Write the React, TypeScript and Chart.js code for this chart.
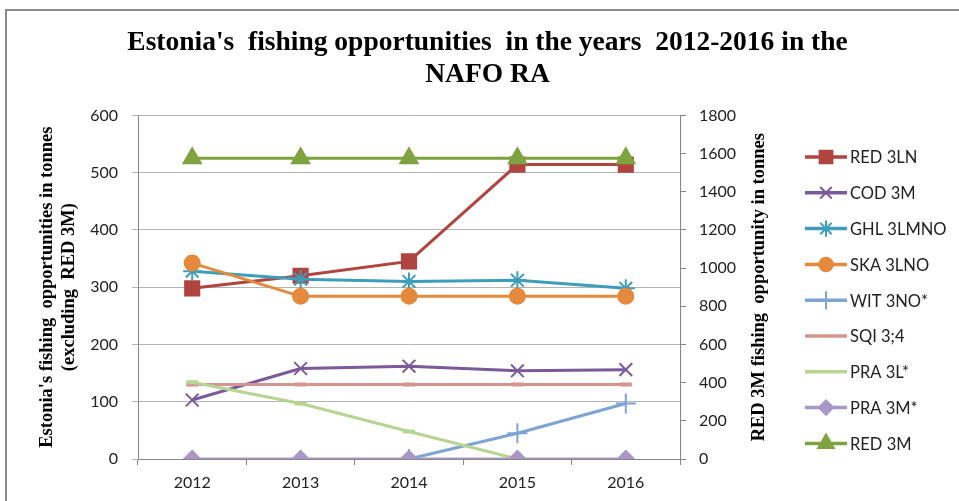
import React, { useEffect, useRef } from "react";
import { Chart, registerables, PointElement } from "chart.js";

Chart.register(...registerables);

const years = ["2012", "2013", "2014", "2015", "2016"];
const red3LN = [298, 320, 345, 514, 514];
const cod3M = [103, 158, 162, 154, 156];
const ghl3LMNO = [328, 314, 310, 312, 298];
const ska3LNO = [342, 284, 284, 284, 284];
const wit3NO = [null, null, 0, 45, 97];
const sqi34 = [130, 130, 130, 130, 130];
const pra3L = [134, 97, 48, 0, null];
const pra3M = [0, 0, 0, 0, 0];
const red3M = [1575, 1575, 1575, 1575, 1575];

const leftTicks = [0, 100, 200, 300, 400, 500, 600];
const rightTicks = [0, 200, 400, 600, 800, 1000, 1200, 1400, 1600, 1800];

const titleLines = ["Estonia's  fishing opportunities  in the years  2012-2016 in the", "NAFO RA"];
const leftTitle = ["Estonia's fishing  opportunities in tonnes", "(excluding  RED 3M)"];
const rightTitle = "RED 3M fishing  opportunity in tonnes";

const SERIF = '"Liberation Serif", "Times New Roman", serif';
const SANS = 'Lato, "Open Sans", sans-serif';

const decorPlugin = {
  id: "decor",
  beforeDraw(chart: any) {
    const ctx = chart.ctx;
    ctx.save();
    ctx.strokeStyle = "#8c8c8c";
    ctx.lineWidth = 2;
    ctx.strokeRect(6, 10, 1000, 600);
    ctx.restore();
  },
  afterDraw(chart: any) {
    const ctx = chart.ctx;
    const area = chart.chartArea;
    const y1 = chart.scales.y1;
    const base = y1.left;
    ctx.save();
    ctx.translate(base + 79, (area.top + area.bottom) / 2);
    ctx.rotate(-Math.PI / 2);
    ctx.font = "bold 18.5px " + SERIF;
    ctx.fillStyle = "#000";
    ctx.textAlign = "center";
    ctx.textBaseline = "middle";
    ctx.fillText(rightTitle, 0, 0);
    ctx.restore();

    chart.data.datasets.forEach((ds: any, i: number) => {
      const y = 157 + i * 35.8;
      ctx.save();
      ctx.strokeStyle = ds.borderColor;
      ctx.lineWidth = 3.5;
      ctx.beginPath();
      ctx.moveTo(base + 125, y);
      ctx.lineTo(base + 167, y);
      ctx.stroke();
      ctx.restore();
      if (ds.pointStyle && ds.legendMarker !== false) {
        const pt: any = new PointElement({});
        pt.x = base + 146;
        pt.y = y;
        pt.options = {
          pointStyle: ds.pointStyle,
          radius: ds.pointRadius * 0.9,
          borderWidth: ds.pointBorderWidth,
          backgroundColor: ds.pointBackgroundColor,
          borderColor: ds.pointBorderColor,
          rotation: 0,
        };
        pt.draw(ctx);
      }
      ctx.save();
      ctx.font = "16.5px " + SANS;
      ctx.fillStyle = "#222";
      ctx.textAlign = "left";
      ctx.textBaseline = "middle";
      ctx.fillText(ds.label, base + 170, y + 1);
      ctx.restore();
    });
  },
};

function series(label: string, data: any[], color: string, style: any, radius: number, axis: string, opts: any = {}) {
  return {
    label,
    data,
    yAxisID: axis,
    borderColor: color,
    backgroundColor: color,
    borderWidth: 3,
    pointStyle: style,
    pointRadius: radius,
    pointHoverRadius: radius,
    pointBackgroundColor: color,
    pointBorderColor: color,
    pointBorderWidth: 2,
    tension: 0,
    spanGaps: false,
    ...opts,
  };
}

export default function App() {
  const ref = useRef<HTMLCanvasElement>(null);
  useEffect(() => {
    document.body.style.margin = "0";
    const canvas = ref.current!;
    const list = [
      series("RED 3LN", red3LN, "#b0443f", "rect", 10, "y"),
      series("COD 3M", cod3M, "#7a5a9b", "crossRot", 9, "y"),
      series("GHL 3LMNO", ghl3LMNO, "#3f9dbc", "star", 9, "y"),
      series("SKA 3LNO", ska3LNO, "#e5893c", "circle", 7.5, "y"),
      series("WIT 3NO*", wit3NO, "#7ea3d5", "cross", 10, "y"),
      series("SQI 3;4", sqi34, "#d59490", "line", 6, "y", { pointBorderWidth: 4, legendMarker: false }),
      series("PRA 3L*", pra3L, "#b7d492", "line", 6, "y", { pointBorderWidth: 4, legendMarker: false }),
      series("PRA 3M*", pra3M, "#a897c7", "rectRot", 8, "y"),
      series("RED 3M", red3M, "#7fa33f", "triangle", 10, "y1"),
    ];
    const n = list.length;
    list.forEach((d: any, i) => (d.order = n - i));
    const chart = new Chart(canvas, {
      type: "line",
      data: { labels: years, datasets: list as any },
      plugins: [decorPlugin],
      options: {
        animation: false,
        responsive: false,
        devicePixelRatio: 1,
        layout: { padding: { left: 16, right: 0, top: 0, bottom: 0 } },
        plugins: {
          legend: { display: false },
          tooltip: { enabled: false },
          title: {
            display: true,
            text: titleLines,
            color: "#000",
            font: { family: SERIF, size: 27.5, weight: "bold", lineHeight: 1.17 },
            padding: { top: 27, bottom: 24 },
          },
        },
        scales: {
          x: {
            type: "category",
            offset: true,
            grid: { offset: true, drawOnChartArea: false, drawTicks: true, tickLength: 6, color: "#868686" },
            border: { display: true, color: "#868686", width: 1 },
            ticks: { color: "#222", font: { family: SANS, size: 16 }, padding: 8 },
            afterFit: (s: any) => { s.height = 42; },
          },
          y: {
            position: "left",
            min: 0,
            max: 600,
            afterBuildTicks: (s: any) => { s.ticks = leftTicks.map((v) => ({ value: v })); },
            grid: { color: "#b4b4b4", tickLength: 6, drawTicks: true },
            border: { display: true, color: "#868686" },
            ticks: { color: "#222", font: { family: SANS, size: 16 }, padding: 14, callback: (v: any) => String(v) },
            title: {
              display: true,
              text: leftTitle,
              color: "#000",
              font: { family: SERIF, size: 18.5, weight: "bold", lineHeight: 1.2 },
              padding: { top: 20, bottom: 0 },
            },
            afterFit: (s: any) => { s.width = 122; },
          },
          y1: {
            position: "right",
            min: 0,
            max: 1800,
            afterBuildTicks: (s: any) => { s.ticks = rightTicks.map((v) => ({ value: v })); },
            grid: { drawOnChartArea: false, tickLength: 6, color: "#868686" },
            border: { display: true, color: "#868686" },
            ticks: { color: "#222", font: { family: SANS, size: 16 }, padding: 13, callback: (v: any) => String(v) },
            afterFit: (s: any) => { s.width = 279; },
          },
        },
      } as any,
    });
    return () => chart.destroy();
  }, []);
  return (
    <div style={{ width: 959, height: 501, overflow: "hidden", background: "#fff" }}>
      <canvas ref={ref} width={959} height={501} />
    </div>
  );
}
